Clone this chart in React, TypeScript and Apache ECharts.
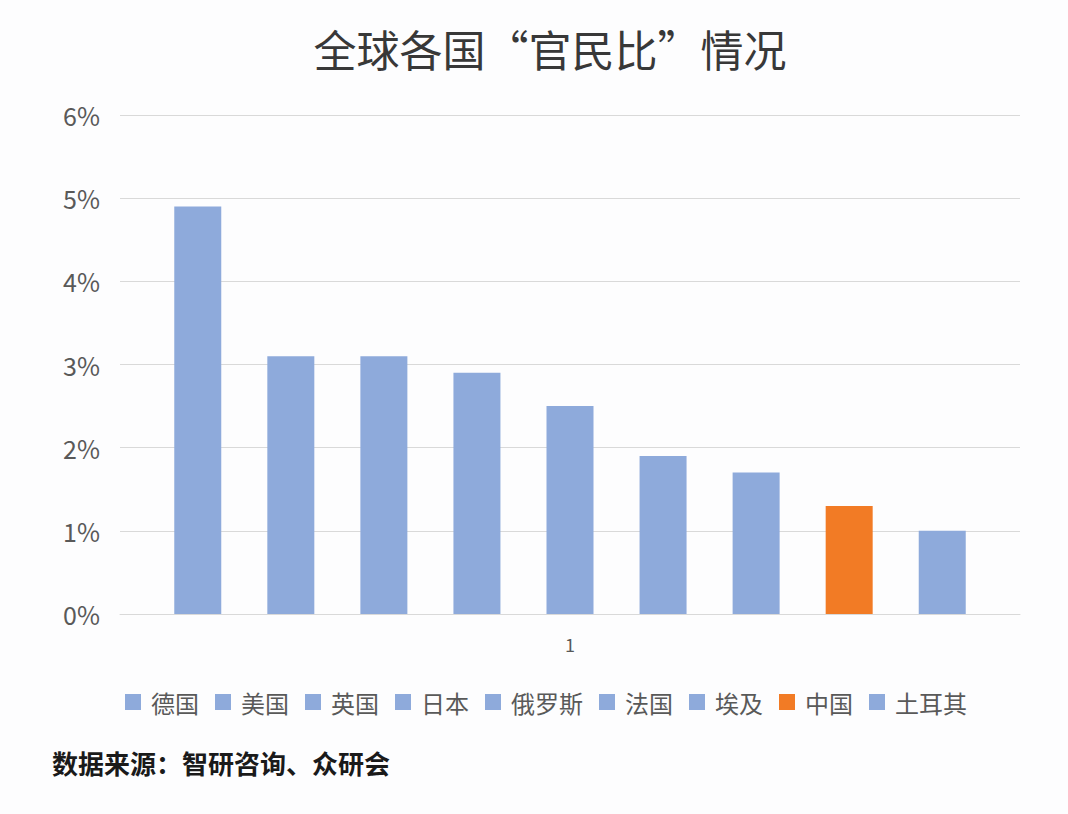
import React, { useEffect, useRef } from "react";
import * as echarts from "echarts";

const categories = ["1"];
const countries = ["德国", "美国", "英国", "日本", "俄罗斯", "法国", "埃及", "中国", "土耳其"];
const values = [4.9, 3.1, 3.1, 2.9, 2.5, 1.9, 1.7, 1.3, 1.0];
const colors = ["#8eaadb", "#8eaadb", "#8eaadb", "#8eaadb", "#8eaadb", "#8eaadb", "#8eaadb", "#f27b25", "#8eaadb"];
const yTicks = [0, 1, 2, 3, 4, 5, 6];

const titleText = "全球各国“官民比”情况";
const sourceText = "数据来源：智研咨询、众研会";

const FONT = '"Noto Sans CJK SC", "Noto Sans", sans-serif';

export default function App() {
  const ref = useRef<HTMLDivElement>(null);
  useEffect(() => {
    if (!ref.current) return;
    const chart = echarts.init(ref.current, undefined, { renderer: "svg" });
    chart.setOption({
      animation: false,
      backgroundColor: "#fdfdfe",
      textStyle: { fontFamily: FONT },
      title: {
        text: titleText,
        left: 545,
        top: 21,
        textAlign: "center",
        textStyle: { fontSize: 43, fontWeight: "normal", color: "#383838", fontFamily: FONT },
      },
      legend: {
        bottom: 95,
        left: 120,
        itemWidth: 16,
        itemHeight: 16,
        itemGap: 16,
        icon: "rect",
        textStyle: { fontSize: 24, color: "#595959", fontFamily: FONT, padding: [0, 0, 0, 5] },
        data: countries,
      },
      grid: { left: 120, right: 48, top: 115, bottom: 200, containLabel: false },
      xAxis: {
        type: "category",
        data: categories,
        axisLine: { show: true, lineStyle: { color: "#d9d9d9", width: 1 } },
        axisTick: { show: false },
        axisLabel: { fontSize: 18, color: "#595959", margin: 21, fontFamily: FONT },
      },
      yAxis: {
        type: "value",
        min: yTicks[0],
        max: yTicks[yTicks.length - 1],
        interval: 1,
        axisLine: { show: false },
        axisTick: { show: false },
        splitLine: { lineStyle: { color: "#d9d9d9", width: 1 } },
        axisLabel: {
          fontSize: 25,
          color: "#595959",
          margin: 20,
          fontFamily: FONT,
          formatter: (v: number) => `${v}%`,
        },
      },
      series: countries.map((name, i) => ({
        name,
        type: "bar",
        data: [values[i]],
        barWidth: 47,
        barGap: "98%",
        itemStyle: { color: colors[i] },
      })),
      graphic: [
        {
          type: "text",
          left: 52,
          top: 749,
          style: {
            text: sourceText,
            fontSize: 26,
            fontWeight: "bold",
            fill: "#1a1a1a",
            fontFamily: FONT,
          },
        },
      ],
    });
    return () => chart.dispose();
  }, []);
  return (
    <div
      ref={ref}
      style={{ position: "fixed", left: 0, top: 0, width: 1068, height: 814 }}
    />
  );
}
